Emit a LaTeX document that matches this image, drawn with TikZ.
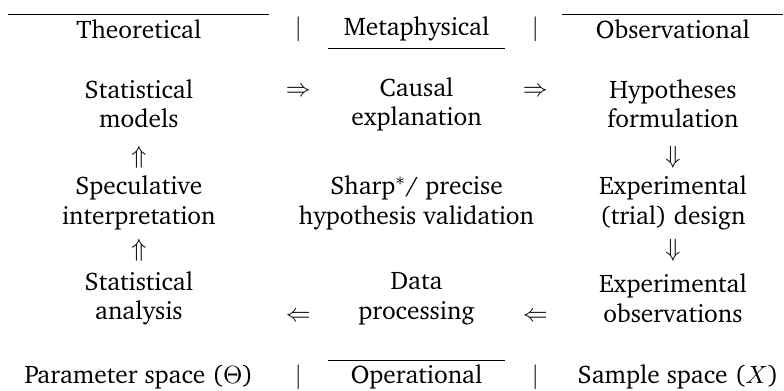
\documentclass[tikz,border=0pt]{standalone}
\usepackage[T1]{fontenc}
\usepackage{charter}
\usepackage{amsmath}
\usepackage{amssymb}

\tikzset{
  cell/.style={align=center, inner sep=0pt, font=\fontsize{11.2}{12.9}\selectfont},
  head/.style={cell, inner ysep=2pt, text width=#1}
}

\begin{document}
\begin{tikzpicture}
    \useasboundingbox (0,0) rectangle (12.14,-6.04);

    % header row
    \node[head=4.03cm] (theo) at (2.15,-0.45) {Theoretical};
    \node[head=2.74cm] (meta) at (6.45,-0.45) {Metaphysical};
    \node[head=3.41cm] (obs) at (10.42,-0.45) {Observational};
    \node[cell] (s1) at (4.62,-0.45) {$|$};
    \node[cell] (s2) at (8.29,-0.45) {$|$};
    \draw (theo.north west) -- (theo.north east);
    \draw ([yshift=-1pt]meta.south west) -- ([yshift=-1pt]meta.south east);
    \draw (obs.north west) -- (obs.north east);

    % first row
    \node[cell] (models) at (2.15,-1.61) {Statistical\\models};
    \node[cell] (causal) at (6.45,-1.61) {Causal\\explanation};
    \node[cell] (hyp) at (10.42,-1.61) {Hypotheses\\formulation};
    \node[cell] (r1) at (4.62,-1.43) {$\Rightarrow$};
    \node[cell] (r2) at (8.29,-1.43) {$\Rightarrow$};

    \node[cell] (u1) at (2.15,-2.43) {$\Uparrow$};
    \node[cell] (d1) at (10.42,-2.43) {$\Downarrow$};

    % second row
    \node[cell] (spec) at (2.15,-3.14) {Speculative\\interpretation};
    \node[cell] (sharp) at (6.45,-3.14) {Sharp$^*$/ precise\\hypothesis validation};
    \node[cell] (design) at (10.42,-3.14) {Experimental\\(trial) design};

    \node[cell] (u2) at (2.15,-3.87) {$\Uparrow$};
    \node[cell] (d2) at (10.42,-3.87) {$\Downarrow$};

    % third row
    \node[cell] (analysis) at (2.15,-4.62) {Statistical\\analysis};
    \node[cell] (proc) at (6.45,-4.62) {Data\\processing};
    \node[cell] (obsv) at (10.42,-4.62) {Experimental\\observations};
    \node[cell] (l1) at (4.62,-4.91) {$\Leftarrow$};
    \node[cell] (l2) at (8.29,-4.91) {$\Leftarrow$};

    % bottom row
    \node[cell] (param) at (2.15,-5.84) {Parameter space ($\Theta$)};
    \node[head=2.74cm] (oper) at (6.45,-5.84) {Operational};
    \node[cell] (sample) at (10.5,-5.84) {Sample space ($X$)};
    \node[cell] (s3) at (4.62,-5.84) {$|$};
    \node[cell] (s4) at (8.29,-5.84) {$|$};
    \draw (oper.north west) -- (oper.north east);
\end{tikzpicture}
\end{document}
